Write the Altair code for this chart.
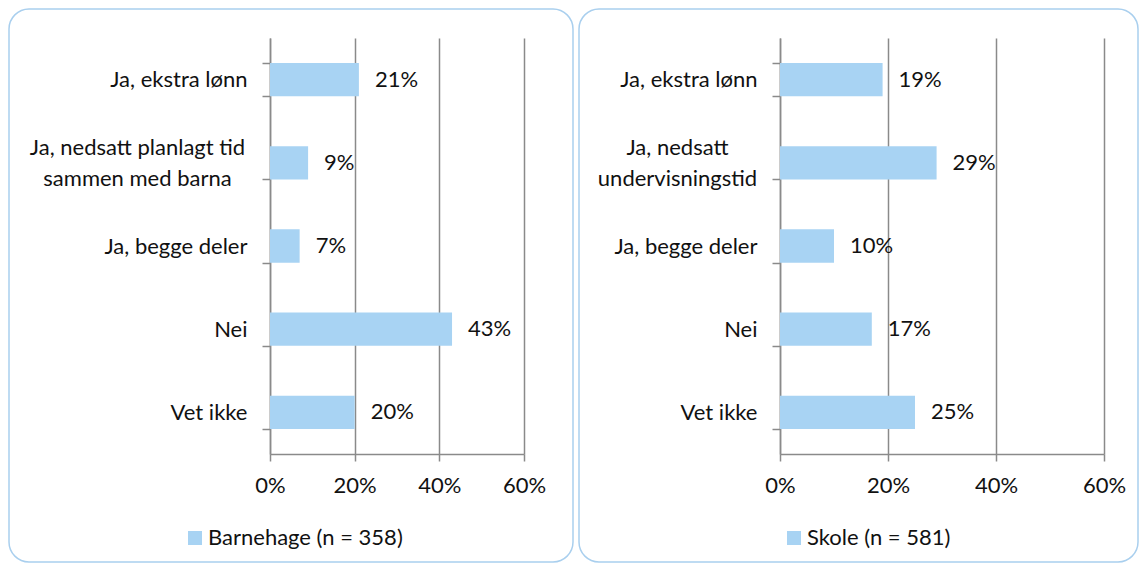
import json
import altair as alt
import pandas as pd

# ---- data ----
left_cats = ["Ja, ekstra lønn", "Ja, nedsatt planlagt tid\nsammen med barna", "Ja, begge deler", "Nei", "Vet ikke"]
left_vals = [0.21, 0.09, 0.07, 0.43, 0.20]
left_series = "Barnehage (n = 358)"

right_cats = ["Ja, ekstra lønn", "Ja, nedsatt\nundervisningstid", "Ja, begge deler", "Nei", "Vet ikke"]
right_vals = [0.19, 0.29, 0.10, 0.17, 0.25]
right_series = "Skole (n = 581)"

x_ticks = [0, 0.2, 0.4, 0.6]

# ---- style ----
FONT = "Lato"
FS = 22
TXT = "#111111"
BAR = "#a8d3f3"
GRID = "#8a8a8a"
BORDER = "#a9cfee"


def multi_test(cats):
    tests = [f"datum.value == {json.dumps(c)}" for c in cats if "\n" in c]
    return " || ".join(tests)


def panel(cats, vals, series, width, height, bx1, bx2, by1, by2, legend_x, legend_y, center_pad):
    df = pd.DataFrame({"cat": cats, "val": vals, "series": [series] * len(cats)})
    base = alt.Chart(df)
    test = multi_test(cats)

    y = alt.Y(
        "cat:N",
        sort=None,
        scale=alt.Scale(paddingInner=0.6, paddingOuter=0.3),
        axis=alt.Axis(
            title=None,
            tickBand="extent",
            domainColor=GRID,
            domainWidth=1.5,
            tickColor=GRID,
            tickWidth=1.5,
            tickSize=8,
            labelPadding={"condition": {"test": test, "value": center_pad}, "value": 15},
            labelAlign={"condition": {"test": test, "value": "center"}, "value": "right"},
            labelOffset={"condition": {"test": test, "value": -15}, "value": 0},
            labelFont=FONT,
            labelFontSize=FS,
            labelColor=TXT,
            labelLineHeight=31,
            labelLimit=400,
            labelExpr="split(datum.label, '\\n')",
        ),
    )
    x = alt.X(
        "val:Q",
        scale=alt.Scale(domain=[0, 0.6], nice=False),
        axis=alt.Axis(
            title=None,
            values=x_ticks,
            format=".0%",
            grid=True,
            gridColor=GRID,
            gridWidth=1.5,
            domainColor=GRID,
            domainWidth=1.5,
            tickColor=GRID,
            tickWidth=1.5,
            tickSize=7,
            labelPadding=14,
            labelFlush=False,
            labelFont=FONT,
            labelFontSize=FS,
            labelColor=TXT,
        ),
    )

    border = alt.Chart(pd.DataFrame({"b": [0]})).mark_rect(
        fill="white", fillOpacity=0, stroke=BORDER, strokeWidth=1.5, cornerRadius=20
    ).encode(
        x=alt.value(bx1), x2=alt.value(bx2), y=alt.value(by1), y2=alt.value(by2)
    )

    bars = base.mark_bar().encode(
        x=x,
        y=y,
        color=alt.Color(
            "series:N",
            scale=alt.Scale(range=[BAR]),
            legend=alt.Legend(
                title=None,
                orient="none",
                legendX=legend_x,
                legendY=legend_y,
                symbolType="square",
                symbolSize=196,
                symbolStrokeWidth=0,
                labelFont=FONT,
                labelFontSize=FS,
                labelColor=TXT,
                labelOffset=2,
                labelLimit=400,
                padding=0,
            ),
        ),
    )

    labels = base.mark_text(
        align="left", baseline="middle", dx=16, font=FONT, fontSize=FS, color=TXT
    ).encode(
        x="val:Q",
        y=alt.Y("cat:N", sort=None),
        text=alt.Text("val:Q", format=".0%"),
    )

    return alt.layer(border, bars, labels).properties(width=width, height=height)


left = panel(
    left_cats, left_vals, left_series, 254, 416,
    -261, 303, -29, 524, -86, 489, 125,
)
right = panel(
    right_cats, right_vals, right_series, 324, 416,
    -201, 358, -29, 524, 3, 489, 95,
)

chart = (
    alt.hconcat(left, right, spacing=4)
    .resolve_scale(x="independent", y="independent", color="independent")
    .resolve_legend(color="independent")
    .properties(padding=0)
    .configure_view(stroke=None)
)

chart.save("out.html", embed_options={"renderer": "svg", "actions": False})
